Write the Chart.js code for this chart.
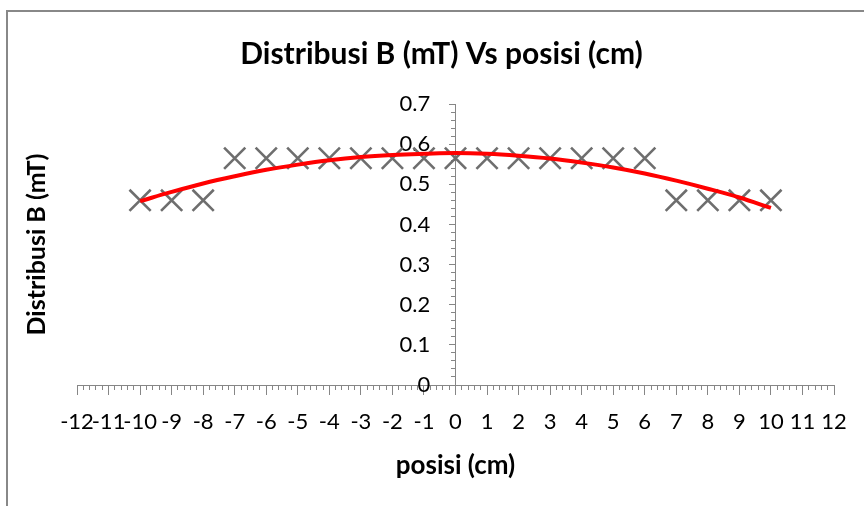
<!DOCTYPE html>
<html><head><meta charset="utf-8">
<script src="https://cdn.jsdelivr.net/npm/chart.js@4.4.1/dist/chart.umd.min.js"></script>
<style>
html,body{margin:0;padding:0;width:864px;height:506px;overflow:hidden;background:#fff;}
#frame{position:absolute;left:6px;top:10px;width:900px;height:520px;border-left:2px solid #888;border-top:2px solid #888;}
#wrap{position:absolute;left:9px;top:11px;width:865px;height:495px;}
</style></head><body>
<div id="frame"></div>
<div id="wrap"><canvas id="c" width="865" height="495"></canvas></div>
<script>
// Data
const positions = [-10,-9,-8,-7,-6,-5,-4,-3,-2,-1,0,1,2,3,4,5,6,7,8,9,10];
const fieldB    = [0.46,0.46,0.46,0.565,0.565,0.565,0.565,0.565,0.565,0.565,0.565,0.565,0.565,0.565,0.565,0.565,0.565,0.46,0.46,0.46,0.46];
const trendB    = [0.458,0.481,0.502,0.520,0.536,0.549,0.560,0.568,0.573,0.576,0.578,0.576,0.571,0.564,0.554,0.542,0.527,0.509,0.489,0.467,0.441];
const xRange = [-12, 12];
const yRange = [0, 0.7];
const chartTitle = 'Distribusi B (mT) Vs posisi (cm)';
const xTitle = 'posisi (cm)';
const yTitle = 'Distribusi B (mT)';

const FONT = "Lato, 'Open Sans', sans-serif";
const AXIS = '#868686';

new Chart(document.getElementById('c'), {
  type: 'scatter',
  data: { datasets: [
    { label: 'Trend', type: 'line', data: positions.map((x,i)=>({x:x, y:trendB[i]})),
      borderColor:'#ff0000', borderWidth:4, pointRadius:0, tension:0.4, fill:false, order:0 },
    { label: 'B', data: positions.map((x,i)=>({x:x, y:fieldB[i]})),
      pointStyle:'crossRot', pointRadius:15, pointBorderColor:'#6e6e6e', borderColor:'#6e6e6e',
      pointBorderWidth:2.6, borderWidth:2.6, backgroundColor:'#6e6e6e', showLine:false, order:1 }
  ]},
  options: {
    responsive:false, animation:false, devicePixelRatio:1,
    layout:{padding:{left:0,right:0,top:0,bottom:121}},
    plugins:{
      legend:{display:false}, tooltip:{enabled:false},
      title:{display:true, text:chartTitle, color:'#000', font:{family:FONT, size:30, weight:'bold'}, padding:{top:25,bottom:32}}
    },
    scales:{
      x:{type:'linear', min:xRange[0], max:xRange[1], position:{y:0},
         ticks:{stepSize:1, autoSkip:false, maxRotation:0, padding:15, color:'#000', font:{family:FONT,size:22}},
         grid:{drawOnChartArea:false, tickLength:9, tickColor:AXIS},
         border:{color:AXIS, width:1},
         title:{display:true, text:xTitle, color:'#000', font:{family:FONT,size:26,weight:'bold'}, padding:{top:0,bottom:0}}},
      xMinor:{type:'linear', display:true, min:xRange[0], max:xRange[1], position:{y:0},
         ticks:{display:false, stepSize:0.2, autoSkip:false},
         grid:{drawOnChartArea:false, tickLength:5, tickColor:AXIS},
         border:{display:false}},
      y:{type:'linear', min:yRange[0], max:yRange[1], position:{x:0},
         ticks:{display:false, stepSize:0.1},
         grid:{drawOnChartArea:false, tickLength:6, tickColor:AXIS},
         border:{color:AXIS, width:1}},
      yMinor:{type:'linear', display:true, min:yRange[0], max:yRange[1], position:{x:0},
         ticks:{display:false, stepSize:0.02, autoSkip:false},
         grid:{drawOnChartArea:false, tickLength:5, tickColor:AXIS},
         border:{display:false}},
      yLabels:{type:'linear', display:true, min:yRange[0], max:yRange[1], position:{x:-0.8},
         ticks:{stepSize:0.1, color:'#000', font:{family:FONT,size:22}},
         grid:{display:false}, border:{display:false}},
      yTitleAxis:{type:'linear', display:true, position:'left',
         ticks:{display:false}, grid:{display:false, drawTicks:false}, border:{display:false},
         title:{display:true, text:yTitle, color:'#000', font:{family:FONT,size:25,weight:'bold'}, padding:{top:13,bottom:0}},
         afterFit:function(s){ s.width = 68; }},
      rightPad:{type:'linear', display:true, position:'right',
         ticks:{display:false}, grid:{display:false, drawTicks:false}, border:{display:false},
         afterFit:function(s){ s.width = 40; }}
    }
  }
});
</script>
</body></html>
